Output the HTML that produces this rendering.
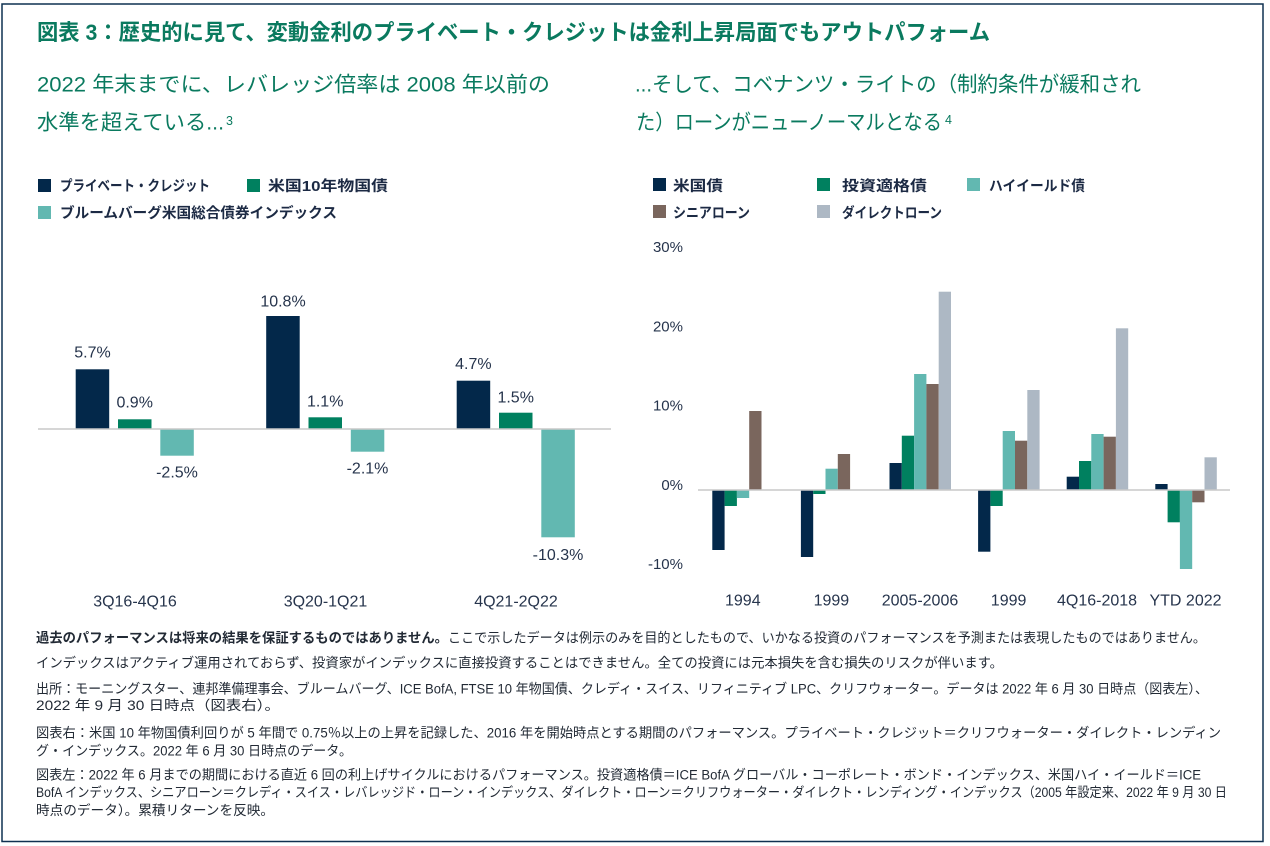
<!DOCTYPE html>
<html lang="ja">
<head>
<meta charset="utf-8">
<style>
  html,body{margin:0;padding:0;background:#fff;}
  body{width:1270px;height:846px;overflow:hidden;}
  svg{display:block;}
  text{font-family:"Liberation Sans","Noto Sans CJK JP",sans-serif;}
  .ttl{font-size:22px;font-weight:bold;fill:#0a7a5f;}
  .sub{font-size:21px;fill:#0a7a5f;}
  .sup{font-size:12.5px;fill:#0a7a5f;}
  .lg{font-size:14.5px;font-weight:bold;fill:#1c2a44;}
  .val{font-size:16px;fill:#26344c;}
  .cat{font-size:16px;fill:#26344c;}
  .tick{font-size:15px;fill:#26344c;}
  .fn{font-size:13.5px;fill:#222a35;}
  .fnb{font-size:13.5px;fill:#222a35;font-weight:bold;}
</style>
</head>
<body>
<svg width="1270" height="846" viewBox="0 0 1270 846" xmlns="http://www.w3.org/2000/svg">
  <rect x="0" y="0" width="1270" height="846" fill="#fff"/>
  <rect x="2" y="4" width="1261" height="837.5" fill="none" stroke="#0f3050" stroke-width="1.5"/>

  <!-- Title -->
  <text class="ttl" x="37" y="40" textLength="953" lengthAdjust="spacingAndGlyphs">図表 3：歴史的に見て、変動金利のプライベート・クレジットは金利上昇局面でもアウトパフォーム</text>

  <!-- Subtitles -->
  <text class="sub" x="37" y="91.5" textLength="513" lengthAdjust="spacingAndGlyphs">2022 年末までに、レバレッジ倍率は 2008 年以前の</text>
  <text class="sub" x="37" y="129.5" textLength="187" lengthAdjust="spacingAndGlyphs">水準を超えている...</text>
  <text class="sup" x="226" y="125">3</text>

  <text class="sub" x="635" y="91.5" textLength="506" lengthAdjust="spacingAndGlyphs">...そして、コベナンツ・ライトの（制約条件が緩和され</text>
  <text class="sub" x="636" y="129.5" textLength="306" lengthAdjust="spacingAndGlyphs">た）ローンがニューノーマルとなる</text>
  <text class="sup" x="945" y="124">4</text>

  <!-- Left legend -->
  <rect x="38" y="179" width="13" height="13" fill="#03284a"/>
  <text class="lg" x="60" y="191" textLength="150" lengthAdjust="spacingAndGlyphs">プライベート・クレジット</text>
  <rect x="247" y="179" width="13" height="13" fill="#00805f"/>
  <text class="lg" x="268" y="191" textLength="120" lengthAdjust="spacingAndGlyphs">米国10年物国債</text>
  <rect x="38" y="206" width="13" height="13" fill="#62b8b1"/>
  <text class="lg" x="60" y="218" textLength="277" lengthAdjust="spacingAndGlyphs">ブルームバーグ米国総合債券インデックス</text>

  <!-- Right legend -->
  <rect x="653" y="178" width="13" height="13" fill="#03284a"/>
  <text class="lg" x="673" y="191" textLength="50" lengthAdjust="spacingAndGlyphs">米国債</text>
  <rect x="817" y="178" width="13" height="13" fill="#00805f"/>
  <text class="lg" x="842" y="191" textLength="85" lengthAdjust="spacingAndGlyphs">投資適格債</text>
  <rect x="967" y="178" width="13" height="13" fill="#62b8b1"/>
  <text class="lg" x="989" y="191" textLength="96" lengthAdjust="spacingAndGlyphs">ハイイールド債</text>
  <rect x="653" y="205" width="13" height="13" fill="#7a665d"/>
  <text class="lg" x="673" y="218" textLength="77" lengthAdjust="spacingAndGlyphs">シニアローン</text>
  <rect x="817" y="205" width="13" height="13" fill="#adb8c4"/>
  <text class="lg" x="842" y="218" textLength="100" lengthAdjust="spacingAndGlyphs">ダイレクトローン</text>

  <!-- LEFT CHART -->
  <rect x="75.7" y="369.3" width="33.5" height="59.7" fill="#03284a"/>
  <rect x="118" y="419.3" width="33.5" height="9.7" fill="#00805f"/>
  <rect x="160.3" y="429" width="33.5" height="26.7" fill="#62b8b1"/>
  <rect x="266.2" y="316" width="33.5" height="113" fill="#03284a"/>
  <rect x="308.5" y="417.3" width="33.5" height="11.7" fill="#00805f"/>
  <rect x="350.8" y="429" width="33.5" height="22.7" fill="#62b8b1"/>
  <rect x="456.7" y="380.7" width="33.5" height="48.3" fill="#03284a"/>
  <rect x="499" y="412.7" width="33.5" height="16.3" fill="#00805f"/>
  <rect x="541.3" y="429" width="33.5" height="108.3" fill="#62b8b1"/>
  <line x1="38" y1="429" x2="611" y2="429" stroke="#c9c9c9" stroke-width="1.5"/>

  <text class="val" x="92.5" y="357.4" text-anchor="middle">5.7%</text>
  <text class="val" x="134.7" y="407.4" text-anchor="middle">0.9%</text>
  <text class="val" x="177" y="477.4" text-anchor="middle">-2.5%</text>
  <text class="val" x="283" y="306.4" text-anchor="middle">10.8%</text>
  <text class="val" x="325.2" y="406.7" text-anchor="middle">1.1%</text>
  <text class="val" x="367.5" y="473.4" text-anchor="middle">-2.1%</text>
  <text class="val" x="473.4" y="369" text-anchor="middle">4.7%</text>
  <text class="val" x="515.7" y="402.4" text-anchor="middle">1.5%</text>
  <text class="val" x="558" y="560" text-anchor="middle">-10.3%</text>

  <text class="cat" x="135" y="606.5" text-anchor="middle">3Q16-4Q16</text>
  <text class="cat" x="325.5" y="606.5" text-anchor="middle">3Q20-1Q21</text>
  <text class="cat" x="516" y="606.5" text-anchor="middle">4Q21-2Q22</text>

  <!-- RIGHT CHART -->
  <text class="tick" x="683" y="252.2" text-anchor="end">30%</text>
  <text class="tick" x="683" y="331.5" text-anchor="end">20%</text>
  <text class="tick" x="683" y="410.5" text-anchor="end">10%</text>
  <text class="tick" x="683" y="490" text-anchor="end">0%</text>
  <text class="tick" x="683" y="568.8" text-anchor="end">-10%</text>

  <rect x="712.3" y="490" width="12.3" height="60" fill="#03284a"/>
  <rect x="724.6" y="490" width="12.3" height="16" fill="#00805f"/>
  <rect x="736.9" y="490" width="12.3" height="8" fill="#62b8b1"/>
  <rect x="749.2" y="411" width="12.3" height="79" fill="#7a665d"/>

  <rect x="800.9" y="490" width="12.3" height="67" fill="#03284a"/>
  <rect x="813.2" y="490" width="12.3" height="4" fill="#00805f"/>
  <rect x="825.5" y="468.7" width="12.3" height="21.3" fill="#62b8b1"/>
  <rect x="837.8" y="454" width="12.3" height="36" fill="#7a665d"/>

  <rect x="889.5" y="463" width="12.3" height="27" fill="#03284a"/>
  <rect x="901.8" y="435.7" width="12.3" height="54.3" fill="#00805f"/>
  <rect x="914.1" y="374" width="12.3" height="116" fill="#62b8b1"/>
  <rect x="926.4" y="384" width="12.3" height="106" fill="#7a665d"/>
  <rect x="938.7" y="291.7" width="12.3" height="198.3" fill="#adb8c4"/>

  <rect x="978.1" y="490" width="12.3" height="61.7" fill="#03284a"/>
  <rect x="990.4" y="490" width="12.3" height="16" fill="#00805f"/>
  <rect x="1002.7" y="431" width="12.3" height="59" fill="#62b8b1"/>
  <rect x="1015" y="440.7" width="12.3" height="49.3" fill="#7a665d"/>
  <rect x="1027.3" y="390" width="12.3" height="100" fill="#adb8c4"/>

  <rect x="1066.7" y="476.7" width="12.3" height="13.3" fill="#03284a"/>
  <rect x="1079" y="461" width="12.3" height="29" fill="#00805f"/>
  <rect x="1091.3" y="434" width="12.3" height="56" fill="#62b8b1"/>
  <rect x="1103.6" y="436.7" width="12.3" height="53.3" fill="#7a665d"/>
  <rect x="1115.9" y="328.3" width="12.3" height="161.7" fill="#adb8c4"/>

  <rect x="1155.3" y="484" width="12.3" height="6" fill="#03284a"/>
  <rect x="1167.6" y="490" width="12.3" height="32.3" fill="#00805f"/>
  <rect x="1179.9" y="490" width="12.3" height="79" fill="#62b8b1"/>
  <rect x="1192.2" y="490" width="12.3" height="12.3" fill="#7a665d"/>
  <rect x="1204.5" y="457.3" width="12.3" height="32.7" fill="#adb8c4"/>

  <line x1="698" y1="490" x2="1230" y2="490" stroke="#c9c9c9" stroke-width="1.5"/>

  <text class="cat" x="742.8" y="605.7" text-anchor="middle">1994</text>
  <text class="cat" x="831.4" y="605.7" text-anchor="middle">1999</text>
  <text class="cat" x="920" y="605.7" text-anchor="middle">2005-2006</text>
  <text class="cat" x="1008.6" y="605.7" text-anchor="middle">1999</text>
  <text class="cat" x="1097" y="605.7" text-anchor="middle">4Q16-2018</text>
  <text class="cat" x="1185.5" y="605.7" text-anchor="middle">YTD 2022</text>

  <!-- Footnotes -->
  <text class="fnb" x="36" y="642.6" textLength="412" lengthAdjust="spacingAndGlyphs">過去のパフォーマンスは将来の結果を保証するものではありません。</text>
  <text class="fn" x="448" y="642.6" textLength="758" lengthAdjust="spacingAndGlyphs">ここで示したデータは例示のみを目的としたもので、いかなる投資のパフォーマンスを予測または表現したものではありません。</text>
  <text class="fn" x="36" y="667.5" textLength="967" lengthAdjust="spacingAndGlyphs">インデックスはアクティブ運用されておらず、投資家がインデックスに直接投資することはできません。全ての投資には元本損失を含む損失のリスクが伴います。</text>
  <text class="fn" x="36" y="693.5" textLength="1172" lengthAdjust="spacingAndGlyphs">出所：モーニングスター、連邦準備理事会、ブルームバーグ、ICE BofA, FTSE 10 年物国債、クレディ・スイス、リフィニティブ LPC、クリフウォーター。データは 2022 年 6 月 30 日時点（図表左）、</text>
  <text class="fn" x="36" y="710.2" textLength="244" lengthAdjust="spacingAndGlyphs">2022 年 9 月 30 日時点（図表右）。</text>
  <text class="fn" x="36" y="737.7" textLength="1185" lengthAdjust="spacingAndGlyphs">図表右：米国 10 年物国債利回りが 5 年間で 0.75％以上の上昇を記録した、2016 年を開始時点とする期間のパフォーマンス。プライベート・クレジット＝クリフウォーター・ダイレクト・レンディン</text>
  <text class="fn" x="36" y="755.3" textLength="316" lengthAdjust="spacingAndGlyphs">グ・インデックス。2022 年 6 月 30 日時点のデータ。</text>
  <text class="fn" x="36" y="779.3" textLength="1165" lengthAdjust="spacingAndGlyphs">図表左：2022 年 6 月までの期間における直近 6 回の利上げサイクルにおけるパフォーマンス。投資適格債＝ICE BofA グローバル・コーポレート・ボンド・インデックス、米国ハイ・イールド＝ICE</text>
  <text class="fn" x="36" y="796.9" textLength="1191" lengthAdjust="spacingAndGlyphs">BofA インデックス、シニアローン＝クレディ・スイス・レバレッジド・ローン・インデックス、ダイレクト・ローン＝クリフウォーター・ダイレクト・レンディング・インデックス（2005 年設定来、2022 年 9 月 30 日</text>
  <text class="fn" x="36" y="815" textLength="238" lengthAdjust="spacingAndGlyphs">時点のデータ）。累積リターンを反映。</text>
</svg>
</body>
</html>
